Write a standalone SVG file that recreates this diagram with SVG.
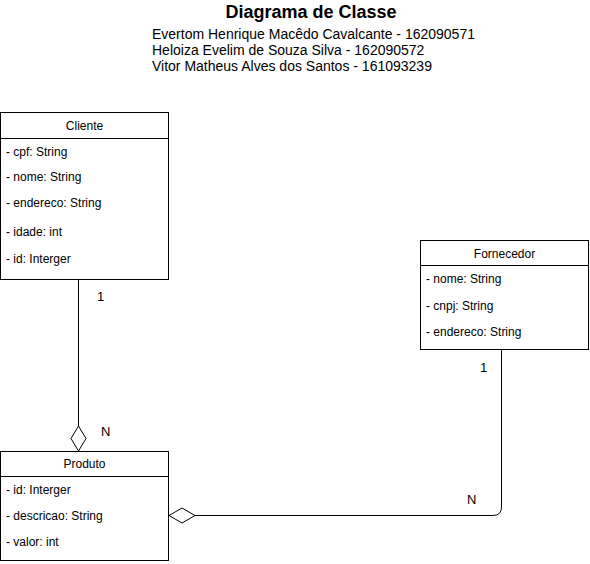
<svg xmlns="http://www.w3.org/2000/svg" width="590" height="564" viewBox="0 0 590 564">
<style>
.box{fill:#fff;stroke:#000;stroke-width:1}
.t{font-family:"Liberation Sans",Arial,sans-serif;font-size:12px;fill:#000}
.h{text-anchor:middle}
.lbl{font-family:"Liberation Sans",Arial,sans-serif;font-size:13px;fill:#000}
.sub{font-family:"Liberation Sans",Arial,sans-serif;font-size:14px;fill:#000}
.edge{fill:none;stroke:#000;stroke-width:1}
</style>
<rect width="590" height="564" fill="#fff"/>
<g id="title">
<text x="311" y="18" text-anchor="middle" font-family="Liberation Sans, Arial, sans-serif" font-size="18" font-weight="bold">Diagrama de Classe</text>
<text x="152" y="39" class="sub">Evertom Henrique Macêdo Cavalcante - 162090571</text>
<text x="152" y="55" class="sub">Heloiza Evelim de Souza Silva - 162090572</text>
<text x="152" y="71" class="sub">Vitor Matheus Alves dos Santos - 161093239</text>
</g>
<g id="connectors">
<path class="edge" d="M78.5 279 V426"/>
<path class="edge" d="M78.5 426 L86 438.5 L78.5 451 L71 438.5 Z" style="fill:#fff"/>
<path class="edge" d="M501.5 350 V507 Q501.5 515.5 493 515.5 H195"/>
<path class="edge" d="M169 515.5 L182 508 L195 515.5 L182 523 Z" style="fill:#fff"/>
<text class="lbl" x="97" y="301">1</text>
<text class="lbl" x="101" y="436">N</text>
<text class="lbl" x="480" y="372">1</text>
<text class="lbl" x="467" y="504">N</text>
</g>
<g id="cliente">
<rect class="box" x="0.5" y="112.5" width="168" height="167"/>
<line class="edge" x1="0.5" y1="138.5" x2="168.5" y2="138.5"/>
<text class="t h" x="84.5" y="130">Cliente</text>
<text class="t" x="6" y="156">- cpf: String</text>
<text class="t" x="6" y="181">- nome: String</text>
<text class="t" x="6" y="207">- endereco: String</text>
<text class="t" x="6" y="236">- idade: int</text>
<text class="t" x="6" y="263">- id: Interger</text>
</g>
<g id="fornecedor">
<rect class="box" x="420.5" y="240.5" width="168" height="109"/>
<line class="edge" x1="420.5" y1="265.5" x2="588.5" y2="265.5"/>
<text class="t h" x="504.5" y="258">Fornecedor</text>
<text class="t" x="426" y="283">- nome: String</text>
<text class="t" x="426" y="310">- cnpj: String</text>
<text class="t" x="426" y="336">- endereco: String</text>
</g>
<g id="produto">
<rect class="box" x="0.5" y="451.5" width="168" height="109"/>
<line class="edge" x1="0.5" y1="476.5" x2="168.5" y2="476.5"/>
<text class="t h" x="84.5" y="468">Produto</text>
<text class="t" x="6" y="494">- id: Interger</text>
<text class="t" x="6" y="520">- descricao: String</text>
<text class="t" x="6" y="546">- valor: int</text>
</g>
</svg>
